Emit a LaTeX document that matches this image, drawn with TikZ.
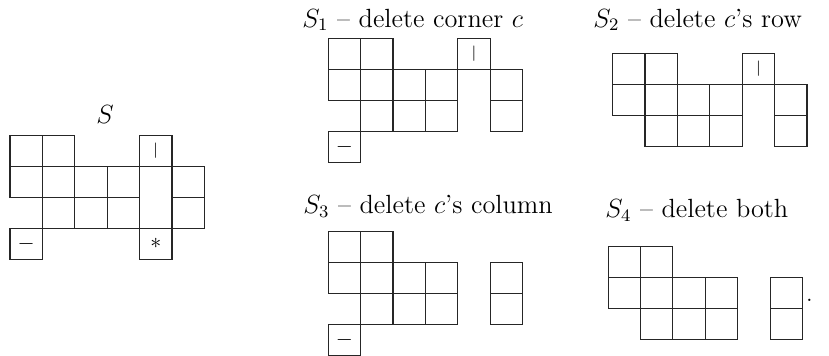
\documentclass[tikz,border=0pt]{standalone}
\tikzset{
    cell/.style={draw=black!85, line width=0.5pt, minimum width=14.77pt,
        minimum height=14.14pt, inner sep=0pt, outer sep=0pt},
    title/.style={anchor=base west, font=\large, inner sep=0pt},
}

\begin{document}
\begin{tikzpicture}[x=14.77pt, y=-14.14pt]
    \useasboundingbox (0,0) rectangle (25.59,11.45);

    % The original shape S
    \node[anchor=base, font=\large, inner sep=0pt] (Stitle) at (3.24,3.97) {$S$};
    \begin{scope}[shift={(0.309,4.355)}]
        \foreach \c/\r in {0/0,1/0,0/1,1/1,2/1,3/1,5/1,1/2,2/2,3/2,5/2}
            \node[cell] (S-\c-\r) at (\c+0.5,\r+0.5) {};
        \node[cell] (S-4-0) at (4.5,0.5) {\scriptsize$|$};
        \node[cell] (S-0-3) at (0.5,3.5) {$-$};
        \node[cell] (S-4-3) at (4.5,3.5) {$*$};
    \end{scope}

    % S_1: corner removed
    \node[title] (S1title) at (9.32,0.871) {$S_1$ -- delete corner $c$};
    \begin{scope}[shift={(10.13,1.235)}]
        \foreach \c/\r in {0/0,1/0,0/1,1/1,2/1,3/1,5/1,1/2,2/2,3/2,5/2}
            \node[cell] (SA-\c-\r) at (\c+0.5,\r+0.5) {};
        \node[cell] (SA-4-0) at (4.5,0.5) {\scriptsize$|$};
        \node[cell] (SA-0-3) at (0.5,3.5) {$-$};
    \end{scope}

    % S_2: row removed
    \node[title] (S2title) at (18.30,0.871) {$S_2$ -- delete $c$'s row};
    \begin{scope}[shift={(18.91,1.72)}]
        \foreach \c/\r in {0/0,1/0,0/1,1/1,2/1,3/1,5/1,1/2,2/2,3/2,5/2}
            \node[cell] (SB-\c-\r) at (\c+0.5,\r+0.5) {};
        \node[cell] (SB-4-0) at (4.5,0.5) {\scriptsize$|$};
    \end{scope}

    % S_3: column removed
    \node[title] (S3title) at (9.35,6.87) {$S_3$ -- delete $c$'s column};
    \begin{scope}[shift={(10.13,7.47)}]
        \foreach \c/\r in {0/0,1/0,0/1,1/1,2/1,3/1,5/1,1/2,2/2,3/2,5/2}
            \node[cell] (SC-\c-\r) at (\c+0.5,\r+0.5) {};
        \node[cell] (SC-0-3) at (0.5,3.5) {$-$};
    \end{scope}

    % S_4: both removed
    \node[title] (S4title) at (18.67,7.0) {$S_4$ -- delete both};
    \begin{scope}[shift={(18.77,7.96)}]
        \foreach \c/\r in {0/0,1/0,0/1,1/1,2/1,3/1,5/1,1/2,2/2,3/2,5/2}
            \node[cell] (SD-\c-\r) at (\c+0.5,\r+0.5) {};
    \end{scope}
    \node[anchor=base west, inner sep=0pt] (stop) at (24.88,9.71) {.};

\end{tikzpicture}
\end{document}
